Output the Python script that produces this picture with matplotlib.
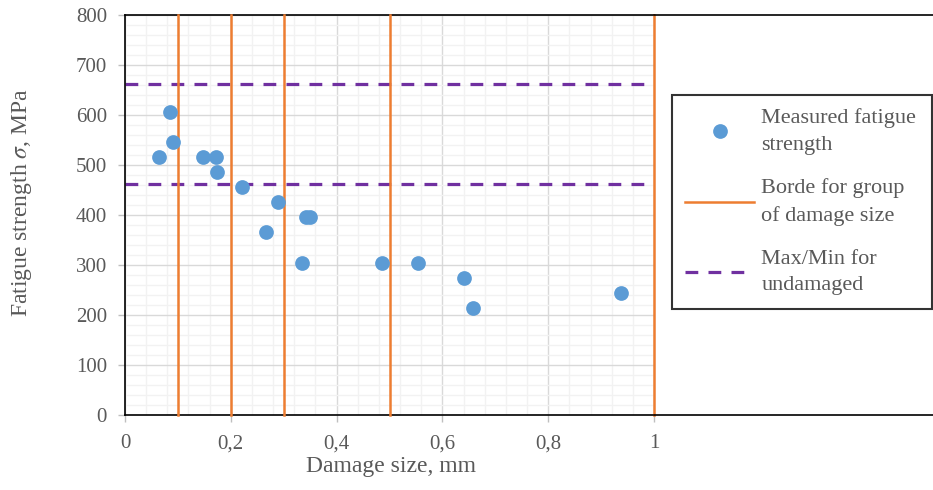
import matplotlib.pyplot as plt
from matplotlib.lines import Line2D
from matplotlib.ticker import MultipleLocator, FuncFormatter

# measured points
damage_size = [0.064, 0.086, 0.090, 0.148, 0.172, 0.173, 0.221, 0.266, 0.289,
               0.335, 0.343, 0.350, 0.486, 0.553, 0.640, 0.658, 0.938]
fatigue_strength = [515, 605, 545, 515, 515, 485, 455, 365, 425,
                    305, 395, 395, 305, 305, 275, 215, 245]

group_borders = [0.1, 0.2, 0.3, 0.5, 1.0]
undamaged_limits = [462, 662]

x_ticks = [0, 0.2, 0.4, 0.6, 0.8, 1.0]
y_ticks = [0, 100, 200, 300, 400, 500, 600, 700, 800]

BLUE = "#5B9BD5"
ORANGE = "#ED7D31"
PURPLE = "#7030A0"
TEXT = "#595959"

plt.rcParams["font.family"] = ["Liberation Serif", "DejaVu Serif"]
plt.rcParams["mathtext.fontset"] = "stix"

W, H = 933, 490
fig = plt.figure(figsize=(W / 100, H / 100), dpi=100)
x0, x1, y_top, y_bot = 125, 654, 15, 415
ax = fig.add_axes([x0 / W, 1 - y_bot / H, (x1 - x0) / W, (y_bot - y_top) / H])

ax.set_xlim(0, 1)
ax.set_ylim(0, 800)
ax.set_xticks(x_ticks)
ax.set_yticks(y_ticks)
ax.xaxis.set_minor_locator(MultipleLocator(0.04))
ax.yaxis.set_minor_locator(MultipleLocator(20))
ax.xaxis.set_major_formatter(FuncFormatter(lambda v, p: f"{v:g}".replace(".", ",")))

ax.grid(True, which="minor", color="#f2f2f2", linewidth=1.0, zorder=0)
ax.grid(True, which="major", color="#d9d9d9", linewidth=1.0, zorder=0)
ax.set_axisbelow(True)

ax.tick_params(which="major", direction="out", length=5, width=1, color="#bfbfbf",
               labelsize=15, labelcolor=TEXT)
ax.tick_params(axis="x", pad=9)
ax.tick_params(axis="y", pad=8)
ax.tick_params(which="minor", length=0)

for side in ("left", "top", "bottom"):
    ax.spines[side].set_color("black")
    ax.spines[side].set_linewidth(1.2)
ax.spines["right"].set_visible(False)

# frame continues under the legend to the right edge
for yy in (y_top, y_bot):
    fig.add_artist(Line2D([x1 / W, 1.0], [1 - yy / H, 1 - yy / H],
                          color="black", linewidth=1.2, transform=fig.transFigure))

for i, lim in enumerate(undamaged_limits):
    ax.axhline(lim, color=PURPLE, linewidth=2.3, dashes=(4, 3.2), zorder=2,
               label="Max/Min for\nundamaged" if i == 0 else None)

for i, b in enumerate(group_borders):
    ax.axvline(b, color=ORANGE, linewidth=1.8, zorder=3, clip_on=False,
               label="Borde for group\nof damage size" if i == 0 else None)

ax.plot(damage_size, fatigue_strength, "o", color=BLUE, markersize=10.6,
        markeredgewidth=0, zorder=4, label="Measured fatigue\nstrength")

handles, labels = ax.get_legend_handles_labels()
order = [2, 1, 0]
leg = fig.legend([handles[i] for i in order], [labels[i] for i in order],
                 loc="upper left",
                 bbox_to_anchor=(672 / W, 1 - 307 / H, (932 - 672) / W, (307 - 95) / H),
                 bbox_transform=fig.transFigure, borderaxespad=0, mode="expand",
                 fontsize=16, frameon=True, fancybox=False, edgecolor="black",
                 handlelength=3.1, handletextpad=0.32, labelspacing=1.05,
                 borderpad=0.6, labelcolor=TEXT)
leg.get_frame().set_linewidth(1.5)
for t in leg.get_texts():
    t.set_linespacing(1.55)

fig.text(391 / W, 1 - 466 / H, "Damage size, mm", ha="center", va="center",
         fontsize=17, color=TEXT)
fig.text(22 / W, 1 - 203 / H, r"Fatigue strength $\sigma$, MPa", ha="center",
         va="center", rotation=90, fontsize=17, color=TEXT)

fig.savefig("out.png", dpi=100)
